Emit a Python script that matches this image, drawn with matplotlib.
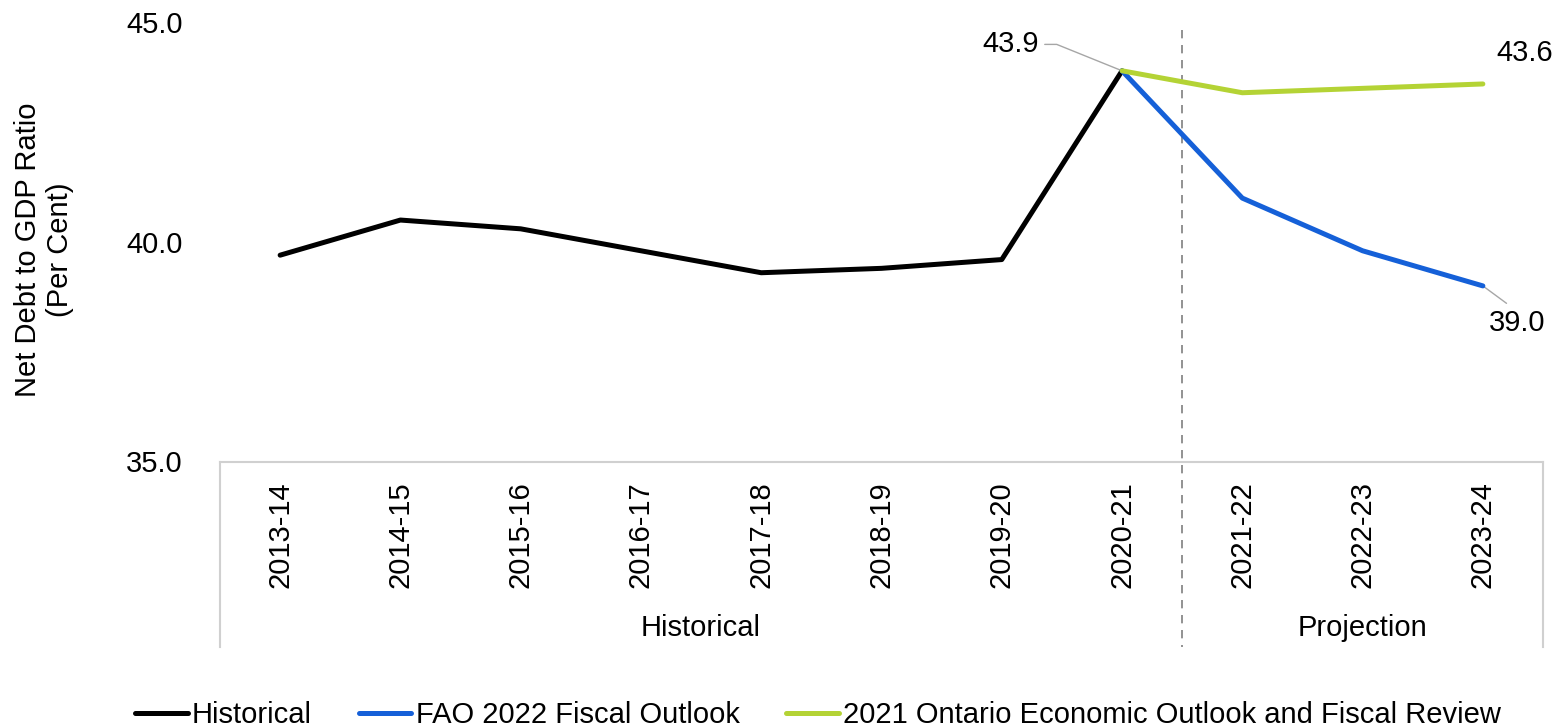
import matplotlib
matplotlib.use("Agg")
import matplotlib.pyplot as plt
from matplotlib.lines import Line2D

# -----------------------------------------------------------------------------
# Data
# -----------------------------------------------------------------------------
years = ["2013-14", "2014-15", "2015-16", "2016-17", "2017-18", "2018-19",
         "2019-20", "2020-21", "2021-22", "2022-23", "2023-24"]
historical = [39.7, 40.5, 40.3, 39.8, 39.3, 39.4, 39.6, 43.9]
fao_2022 = [43.9, 41.0, 39.8, 39.0]
ontario_2021 = [43.9, 43.4, 43.5, 43.6]
y_ticks = [35.0, 40.0, 45.0]
groups = ["Historical", "Projection"]
series_names = ["Historical", "FAO 2022 Fiscal Outlook",
                "2021 Ontario Economic Outlook and Fiscal Review"]

BLACK = "#000000"
BLUE = "#1560D8"
GREEN = "#B4D335"
GRID_GRAY = "#D0D0D0"
DASH_GRAY = "#7F7F7F"
LEADER_GRAY = "#A6A6A6"

plt.rcParams["font.family"] = ["Liberation Sans", "DejaVu Sans"]
FS = 21

fig = plt.figure(figsize=(15.6, 7.27), dpi=100)
ax = fig.add_axes([220 / 1560, 1 - 461.5 / 727, 1323 / 1560, 439 / 727])

x_hist = list(range(len(historical)))
x_proj = list(range(len(historical) - 1, len(years)))

lw = 3.6
ax.plot(x_hist, historical, color=BLACK, lw=lw, solid_capstyle="round",
        solid_joinstyle="round", zorder=3)
ax.plot(x_proj, fao_2022, color=BLUE, lw=lw, solid_capstyle="round",
        solid_joinstyle="round", zorder=4)
ax.plot(x_proj, ontario_2021, color=GREEN, lw=lw, solid_capstyle="round",
        solid_joinstyle="round", zorder=5)

ax.set_xlim(-0.5, len(years) - 0.5)
ax.set_ylim(35, 45)
ax.set_yticks(y_ticks)
ax.set_yticklabels([f"{v:.1f}" for v in y_ticks], fontsize=FS)
ax.set_xticks(range(len(years)))
ax.set_xticklabels(years, rotation=90, fontsize=FS)
ax.tick_params(axis="y", length=0, pad=27)
ax.tick_params(axis="x", length=0, pad=14)

for s in ["left", "right", "top"]:
    ax.spines[s].set_visible(False)
ax.spines["bottom"].set_color(GRID_GRAY)
ax.spines["bottom"].set_linewidth(1.5)

# category box below the axis
trans = ax.get_xaxis_transform()
box_bottom = -(647 - 461.5) / 439
for xb in [-0.5, len(years) - 0.5]:
    ax.add_line(Line2D([xb, xb], [0, box_bottom], transform=trans,
                       color=GRID_GRAY, lw=1.5, clip_on=False))
split = len(historical) - 0.5
ax.add_line(Line2D([split, split], [(461.5 - 30) / 439, box_bottom],
                   transform=trans, color=DASH_GRAY, lw=1.2,
                   ls=(0, (5, 4)), clip_on=False, zorder=2))

ax.text((-0.5 + split) / 2, -(628 - 461.5) / 439, groups[0], transform=trans,
        ha="center", va="center", fontsize=FS)
ax.text((split + len(years) - 0.5) / 2, -(628 - 461.5) / 439, groups[1],
        transform=trans, ha="center", va="center", fontsize=FS)

# data labels
ax.annotate(f"{historical[-1]:.1f}", xy=(x_hist[-1], historical[-1]),
            xytext=(-80, 19), textcoords="offset points", ha="center",
            va="center", fontsize=FS,
            arrowprops=dict(arrowstyle="-", color=LEADER_GRAY, lw=1,
                            relpos=(1, 0.5), shrinkA=2, shrinkB=0,
                            connectionstyle="angle,angleA=0,angleB=-22,rad=0"))
ax.annotate(f"{ontario_2021[-1]:.1f}", xy=(x_proj[-1], ontario_2021[-1]),
            xytext=(30, 22), textcoords="offset points", ha="center",
            va="center", fontsize=FS)
ax.annotate(f"{fao_2022[-1]:.1f}", xy=(x_proj[-1], fao_2022[-1]),
            xytext=(25, -27), textcoords="offset points", ha="center",
            va="center", fontsize=FS,
            arrowprops=dict(arrowstyle="-", color=LEADER_GRAY, lw=1,
                            relpos=(0.45, 1.0), shrinkA=4, shrinkB=0))

fig.text(44 / 1560, 1 - 250 / 727, "Net Debt to GDP Ratio\n(Per Cent)",
         rotation=90, ha="center", va="center", multialignment="center",
         fontsize=FS, linespacing=1.2)

handles = [Line2D([], [], color=c, lw=lw, solid_capstyle="round")
           for c in [BLACK, BLUE, GREEN]]
fig.legend(handles, series_names, loc="center", ncol=3,
           bbox_to_anchor=(818 / 1560, 1 - 715 / 727), frameon=False,
           fontsize=FS, handlelength=1.8, handletextpad=0.15,
           columnspacing=1.6, borderaxespad=0)

fig.savefig("out.png", dpi=100)
